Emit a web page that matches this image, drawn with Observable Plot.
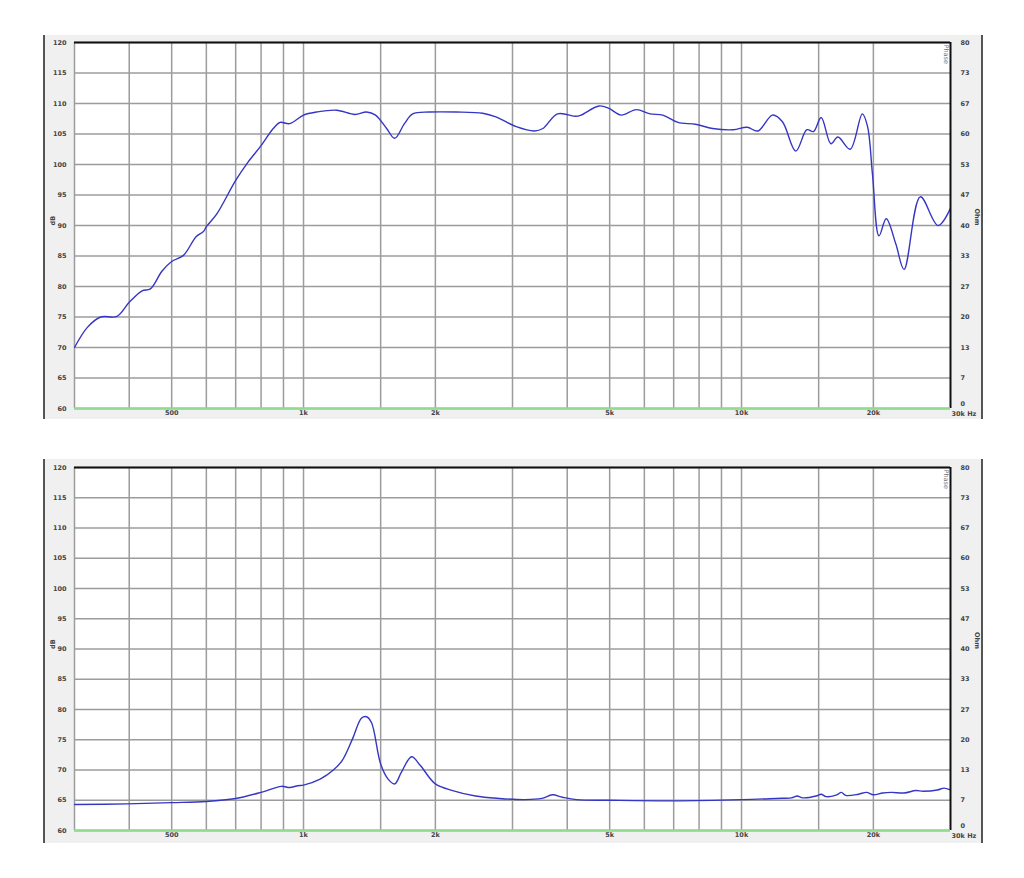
<!DOCTYPE html>
<html>
<head>
<meta charset="utf-8">
<script src="https://cdn.jsdelivr.net/npm/d3@7"></script>
<script src="https://cdn.jsdelivr.net/npm/@observablehq/plot@0.6"></script>
<style>
  body { margin: 0; background: #ffffff; }
  #wrap { position: relative; width: 1024px; height: 878px; }
  .bg { position: absolute; left: 43px; width: 936px; background: #f0f0f0;
        border-left: 2px solid #555; border-right: 2px solid #555; }
  .pl { position: absolute; left: 0; }
</style>
</head>
<body>
<div id="wrap">
  <div class="bg" style="top:35px;height:384px"></div>
  <div class="bg" style="top:459px;height:384px"></div>
</div>
<script>
// ---- data ----
const topFreq = [300,321,344,375,400,428,447,475,500,532,569,591,600,634,700,747,800,853,884,930,
  1000,1071,1190,1310,1393,1460,1548,1615,1700,1775,1940,2230,2565,2750,3060,3370,3520,3800,4190,4300,
  4730,4980,5310,5750,6180,6610,7160,7850,8590,9580,10300,10900,11770,12400,13300,14100,14600,15200,16000,16600,
  17700,18870,19400,19900,20600,21400,22500,23500,25600,28100,30000];
const topDb = [70,73.3,75,75.1,77.4,79.3,79.6,82.5,84.1,85.1,88.2,89,89.8,91.9,97.4,100.4,103.1,105.9,106.9,106.7,
  108.1,108.6,108.9,108.2,108.6,108.1,105.9,104.3,106.7,108.3,108.6,108.6,108.4,107.8,106.2,105.5,105.9,108.3,107.9,108.1,
  109.6,109.2,108.1,109.0,108.3,108.1,106.9,106.6,105.9,105.7,106.1,105.5,108.1,107.0,102.2,105.7,105.4,107.7,103.4,104.5,
  102.5,108.3,106.2,98.5,88.3,91.1,87.0,82.8,94.7,90.0,92.8];

const botFreq = [300,395,500,600,700,800,890,930,970,1000,1091,1170,1226,1293,1357,1393,1430,1500,1560,1615,
  1672,1765,1850,2000,2190,2470,2800,3200,3500,3700,3900,4200,5000,7000,10000,12000,13000,13400,13800,14800,
  15200,15600,16500,16900,17300,18500,19300,20000,21000,22000,23500,25000,26000,28000,29000,30000];
const botDb = [64.3,64.4,64.6,64.8,65.3,66.3,67.3,67.1,67.4,67.5,68.5,70.0,71.6,75.1,78.6,78.8,77.8,71.0,68.5,67.7,
  69.6,72.2,70.7,67.7,66.6,65.7,65.3,65.1,65.3,65.9,65.5,65.1,65.0,64.9,65.1,65.3,65.4,65.7,65.4,65.7,
  66.0,65.6,65.9,66.3,65.8,66.0,66.3,65.9,66.2,66.3,66.2,66.6,66.5,66.7,67.0,66.7];

const freqGrid = [300,400,500,600,700,800,900,1000,1500,2000,3000,4000,5000,6000,7000,8000,9000,10000,15000,20000];
const xTickVals = [500,1000,2000,5000,10000,20000];
const xTickLabels = ["500","1k","2k","5k","10k","20k"];
const xLastVal = [30000];
const xLastLabel = ["30k Hz"];
const dbTicks = [60,65,70,75,80,85,90,95,100,105,110,115,120];
const ohmLabels = ["0","7","13","20","27","33","40","47","53","60","67","73","80"];

const font = "DejaVu Sans, Verdana, sans-serif";
const lab = {fontSize: 6.5, fontWeight: "bold", fill: "#444", fontFamily: font};

function panel(freq, db, marginTop, height) {
  const data = freq.map((f, i) => ({f, v: db[i]}));
  const ohmUpper = dbTicks.slice(1);
  return Plot.plot({
    width: 1024, height, marginTop, marginBottom: 16, marginLeft: 74, marginRight: 74,
    x: {type: "log", domain: [300, 30000], axis: null},
    y: {domain: [60, 120], axis: null},
    style: {background: "transparent", overflow: "visible", fontFamily: font},
    marks: [
      Plot.frame({fill: "white", stroke: null}),
      Plot.ruleX(freqGrid, {x: d => d, stroke: "#9c9c9c", strokeWidth: 1.5}),
      Plot.ruleY(dbTicks, {y: d => d, stroke: "#9c9c9c", strokeWidth: 1.5}),
      Plot.line(data, {x: "f", y: "v", stroke: "#3636c4", strokeWidth: 1.4, curve: "catmull-rom", clip: true}),
      Plot.ruleY([120], {stroke: "#111", strokeWidth: 2}),
      Plot.ruleX([30000], {stroke: "#111", strokeWidth: 2}),
      Plot.ruleY([60], {stroke: "#8fdc8f", strokeWidth: 2.5}),
      Plot.text(dbTicks, {y: d => d, text: d => String(d), frameAnchor: "left", dx: -8, textAnchor: "end", ...lab}),
      Plot.text(ohmUpper, {y: d => d, text: (d, i) => ohmLabels[i + 1], frameAnchor: "right", dx: 10, textAnchor: "start", ...lab}),
      Plot.text([dbTicks[0]], {y: d => d, text: () => ohmLabels[0], frameAnchor: "right", dx: 10, dy: -5, textAnchor: "start", ...lab}),
      Plot.text(xTickVals, {x: d => d, text: (d, i) => xTickLabels[i], frameAnchor: "bottom", dy: 6, ...lab}),
      Plot.text(xLastVal, {x: d => d, text: (d, i) => xLastLabel[i], frameAnchor: "bottom", dy: 7, dx: 1, textAnchor: "start", ...lab}),
      Plot.text(["dB"], {y: 90, text: d => d, frameAnchor: "left", dx: -22, rotate: -90, ...lab}),
      Plot.text(["Ohm"], {y: 90, text: d => d, frameAnchor: "right", dx: 27, rotate: 90, ...lab}),
      Plot.text(["Phase"], {y: 120, text: d => d, frameAnchor: "right", dx: -4, dy: 2, rotate: 90, textAnchor: "start", ...lab, fontWeight: "normal", fill: "#777"})
    ]
  });
}

const wrap = document.getElementById("wrap");
const p1 = panel(topFreq, topDb, 42, 424);
p1.classList.add("pl"); p1.style.top = "0px";
wrap.appendChild(p1);
const p2 = panel(botFreq, botDb, 43, 422);
p2.classList.add("pl"); p2.style.top = "424px";
wrap.appendChild(p2);
</script>
</body>
</html>
